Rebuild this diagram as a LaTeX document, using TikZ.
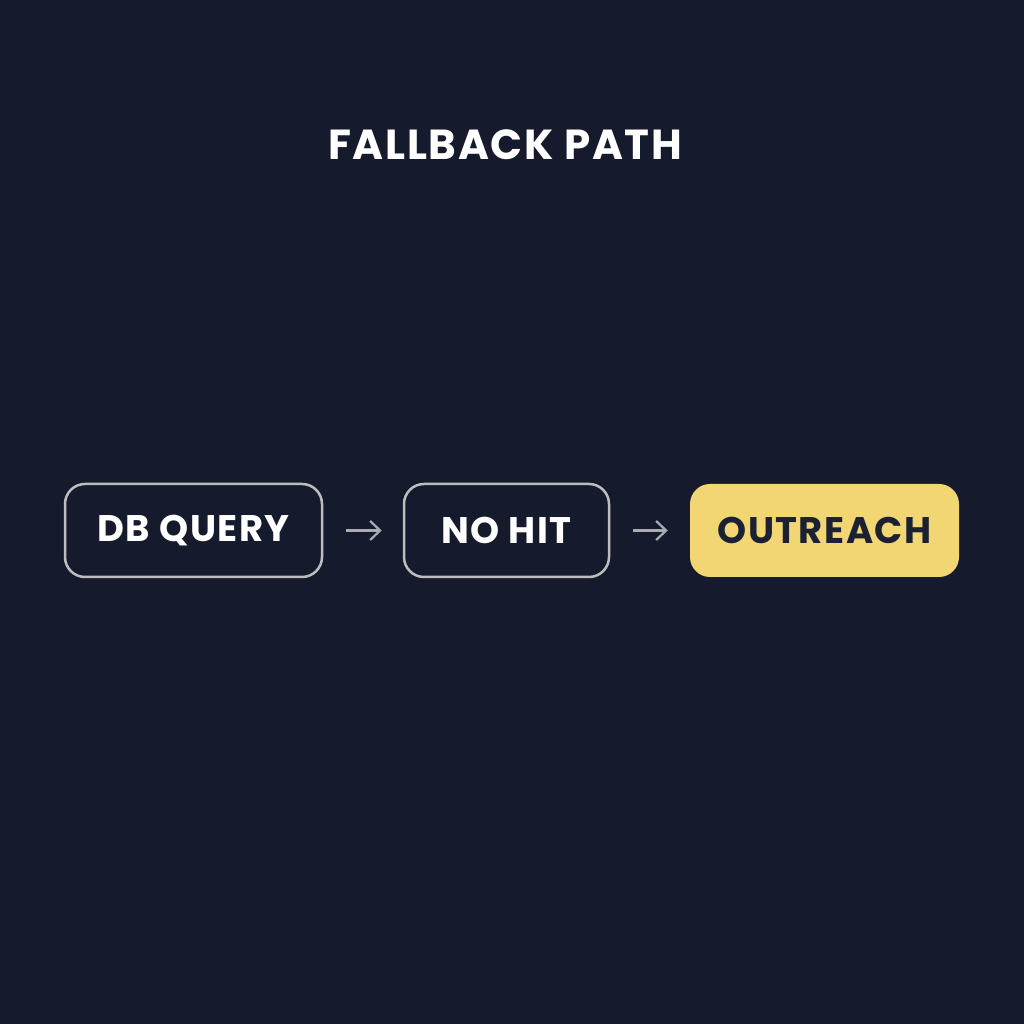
\documentclass[tikz,border=0pt]{standalone}
\usepackage{fontspec}
\setmainfont{Poppins}
\newfontfamily\widefont{Poppins}[LetterSpace=4]
\usetikzlibrary{arrows.meta,positioning}
\definecolor{bgnavy}{HTML}{151B2C}
\definecolor{boxline}{HTML}{BDBDBF}
\definecolor{hitfill}{HTML}{F2D674}
\definecolor{hittext}{HTML}{1B2132}
\definecolor{arrowgray}{HTML}{A9ACB3}

\begin{document}
\begin{tikzpicture}[x=1pt,y=1pt,>={Straight Barb[length=10pt,width=19pt]},
  stage/.style={draw=boxline,line width=2.5pt,rounded corners=20pt,fill=bgnavy,
    text=white,font=\widefont\fontsize{37}{44}\selectfont\bfseries,inner sep=0pt,minimum height=93pt},
  goal/.style={stage,draw=none,fill=hitfill,text=hittext},
  flow/.style={->,draw=arrowgray,line width=2.2pt,shorten <=23pt,shorten >=21pt}]
\fill[bgnavy] (0,0) rectangle (1024,1024);
\useasboundingbox (0,0) rectangle (1024,1024);

\node [text=white,font=\widefont\fontsize{42}{48}\selectfont\bfseries] at (505,879) (title) {FALLBACK PATH};

\node [stage,minimum width=257pt] at (193.5,493.5) (query) {\raisebox{-2pt}{DB QUERY}};
\node [stage,minimum width=205pt] at (506.5,493.5) (nohit) {\raisebox{-2pt}{NO HIT}};
\node [goal,minimum width=269pt] at (824.5,493.5) (outreach) {\raisebox{-2pt}{OUTREACH}};

\draw [flow] (query.east) -- (nohit.west);
\draw [flow] (nohit.east) -- (outreach.west);
\end{tikzpicture}
\end{document}
